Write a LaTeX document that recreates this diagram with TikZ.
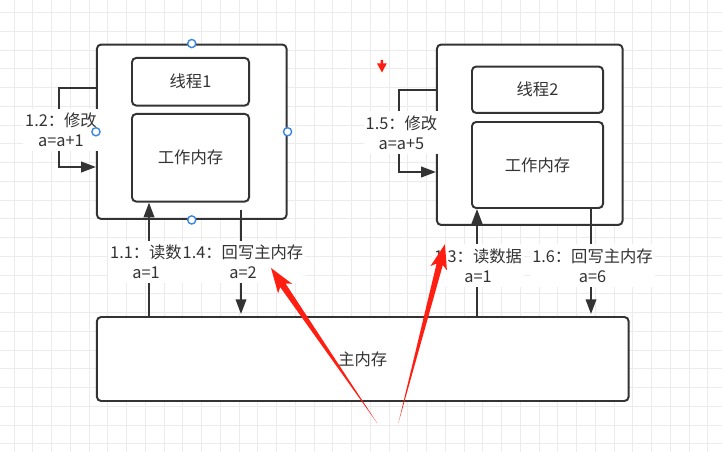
\documentclass[tikz,border=0pt]{standalone}
\usepackage{fontspec}
\setmainfont{Noto Sans CJK SC}
\usetikzlibrary{arrows.meta,calc}

\definecolor{ink}{HTML}{333333}
\definecolor{gridc}{HTML}{EBEBEB}
\definecolor{handle}{HTML}{3D85E0}
\definecolor{redmark}{HTML}{FF1E12}

\tikzset{
  box/.style={draw=ink, fill=white, line width=1.4pt, rounded corners=3pt, text=ink, inner sep=0pt,
    font=\fontsize{11.6pt}{14.5pt}\selectfont},
  conn/.style={draw=ink, line width=1.4pt},
  lbl/.style={fill=white, text=ink, align=center, inner xsep=1.5pt, inner ysep=3pt,
    font=\fontsize{11.6pt}{14.5pt}\selectfont},
}

\begin{document}
\begin{tikzpicture}[x=0.025cm,y=-0.025cm,>={Triangle[length=10.5pt,width=7.5pt]}]
    \useasboundingbox (0,0) rectangle (722,452);
    \fill[white] (0,0) rectangle (722,452);

    \foreach \gx in {0,...,37}
      \draw[gridc,line width=0.7pt] (14+18.75*\gx,0) -- (14+18.75*\gx,452);
    \foreach \gy in {0,...,23}
      \draw[gridc,line width=0.7pt] (0,12.5+18.75*\gy) -- (722,12.5+18.75*\gy);

    \node[box, minimum width=4.74cm, minimum height=4.36cm] (outer1) at (191.75,131.75) {};
    \node[box, minimum width=2.925cm, minimum height=1.19cm] (thread1) at (190.5,81.75) {线程1};
    \node[box, minimum width=2.925cm, minimum height=2.19cm] (work1) at (190.5,157.75) {工作内存};

    \node[box, minimum width=4.64cm, minimum height=4.51cm] (outer2) at (529.75,134.75) {};
    \node[box, minimum width=3.275cm, minimum height=1.16cm] (thread2) at (537.5,89.75) {线程2};
    \node[box, minimum width=3.275cm, minimum height=2.15cm] (work2) at (537.5,165) {工作内存};

    \node[box, minimum width=13.29cm, minimum height=2.1cm] (mainmem) at (362.75,359) {主内存};

    \coordinate (rd1) at (149,0);
    \coordinate (wb1) at (241,0);
    \coordinate (rd2) at (477,0);
    \coordinate (wb2) at (591,0);
    \draw[conn,->] (rd1 |- mainmem.north) -- (rd1 |- work1.south);
    \draw[conn,->] ([yshift=-5pt]wb1 |- work1.south) -- ([yshift=1.4pt]wb1 |- mainmem.north);
    \draw[conn,->] (rd2 |- mainmem.north) -- (rd2 |- work2.south);
    \draw[conn,->] (wb2 |- work2.south) -- ([yshift=1.4pt]wb2 |- mainmem.north);

    \coordinate (lp1a) at (59,88);
    \coordinate (lp1b) at (59,167);
    \coordinate (lp2a) at (399,90);
    \coordinate (lp2b) at (399,172);
    \draw[conn,->] (lp1a -| outer1.west) -- (lp1a) -- (lp1b) -- (lp1b -| outer1.west);
    \draw[conn,->] (lp2a -| outer2.west) -- (lp2a) -- (lp2b) -- (lp2b -| outer2.west);

    \node[lbl] (lb12) at (61,130) {1.2：修改\\a=a+1};
    \node[lbl] (lb15) at (401.5,132.5) {1.5：修改\\a=a+5};
    \node[lbl] (lb11) at (146,262) {1.1：读数\\a=1};
    \node[lbl] (lb14) at (243,262) {1.4：回写主内存\\a=2};
    \node[lbl] (lb13) at (478,265.5) {1.3：读数据\\a=1};
    \node[lbl] (lb16) at (592.5,265.5) {1.6：回写主内存\\a=6};

    \foreach \a in {north,west,east,south}
      \draw[handle,fill=white,line width=1pt] (outer1.\a) circle (2.9pt);

    \fill[redmark] (377.3,423.3) -- (285.5,283.5) -- (292.1,283.8) -- (271,268)
      -- (278.1,293.4) -- (280.2,287.1) -- cycle;
    \fill[redmark] (398.3,423.3) -- (436.6,263.5) -- (430.5,266.1) -- (445,244)
      -- (446.9,270.3) -- (442.8,265.1) -- cycle;
    \fill[redmark] (380.5,60) -- (383,60) -- (383,63.5) -- (386.7,63.5) -- (382,72.5)
      -- (377,63.5) -- (380.5,63.5) -- cycle;

  \end{tikzpicture}
\end{document}
